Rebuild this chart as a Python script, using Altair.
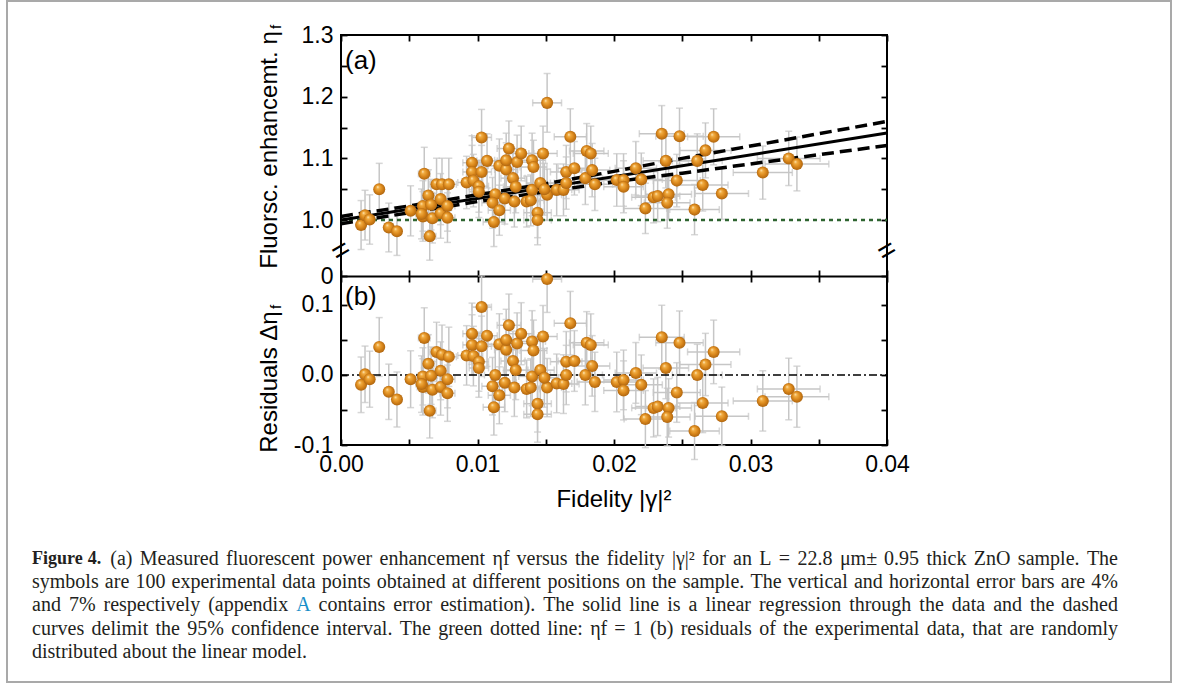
import altair as alt
import pandas as pd

# ---------------- data ----------------
fidelity = [0.00147, 0.00176, 0.0021, 0.0028, 0.0035, 0.0041, 0.0051, 0.0061, 0.0064, 0.0060,
            0.0060, 0.0066, 0.0065, 0.0067, 0.0070, 0.0073, 0.0074, 0.0073, 0.0079, 0.0078,
            0.0078, 0.0092, 0.0096, 0.0096, 0.0103, 0.0097, 0.0101, 0.0101, 0.0103, 0.0107,
            0.0112, 0.0113, 0.0111, 0.0116, 0.0116, 0.0120, 0.0121, 0.0123, 0.0121, 0.0126,
            0.0127, 0.0128, 0.0129, 0.0132, 0.0136, 0.0139, 0.0140, 0.0141, 0.0140, 0.0144,
            0.0144, 0.0146, 0.0148, 0.0151, 0.0151, 0.0158, 0.0163, 0.0165, 0.0165, 0.0168,
            0.0171, 0.0179, 0.0180, 0.0183, 0.0184, 0.0186, 0.0202, 0.0207, 0.0207, 0.0216,
            0.0220, 0.0223, 0.0229, 0.0232, 0.0235, 0.0238, 0.0240, 0.0239, 0.0246, 0.0248,
            0.0259, 0.0261, 0.0265, 0.0267, 0.0273, 0.0279, 0.0309, 0.0328, 0.0334, 0.0149,
            0.0059]
eta = [0.992, 1.008, 1.001, 1.050, 0.988, 0.982, 1.015, 1.075, 1.040, 1.023,
       1.006, 1.025, 0.974, 1.003, 1.058, 1.034, 1.058, 1.011, 1.058, 1.023,
       1.004, 1.061, 1.093, 1.078, 1.134, 1.064, 1.055, 1.046, 1.078, 1.096,
       0.997, 1.042, 1.028, 1.016, 1.088, 1.035, 1.082, 1.116, 1.097, 1.068,
       1.030, 1.054, 1.094, 1.108, 1.030, 1.032, 1.097, 1.086, 1.049, 1.012,
       1.000, 1.060, 1.108, 1.190, 1.041, 1.049, 1.049, 1.078, 1.060, 1.135,
       1.084, 1.068, 1.112, 1.108, 1.081, 1.058, 1.065, 1.065, 1.054, 1.084,
       1.066, 1.019, 1.037, 1.039, 1.140, 1.096, 1.042, 1.028, 1.064, 1.136,
       1.017, 1.096, 1.057, 1.113, 1.135, 1.043, 1.077, 1.100, 1.091, 1.050,
       1.010]
residual = [-0.014, 0.001, -0.006, 0.040, -0.024, -0.035, -0.006, 0.053, 0.016, -0.002,
            -0.017, -0.001, -0.051, -0.021, 0.033, 0.006, 0.029, -0.017, 0.026, -0.006,
            -0.026, 0.028, 0.059, 0.043, 0.097, 0.027, 0.019, 0.010, 0.041, 0.056,
            -0.046, 0.000, -0.016, -0.029, 0.044, -0.011, 0.036, 0.071, 0.050, 0.020,
            -0.018, 0.007, 0.045, 0.059, -0.020, -0.018, 0.048, 0.035, -0.002, -0.041,
            -0.056, 0.007, 0.055, 0.137, -0.018, -0.012, -0.013, 0.019, 0.000, 0.074,
            0.020, 0.000, 0.046, 0.043, 0.013, -0.010, -0.010, -0.007, -0.022, 0.003,
            -0.014, -0.063, -0.047, -0.045, 0.054, 0.010, -0.047, -0.060, -0.025, 0.046,
            -0.080, 0.000, -0.040, 0.015, 0.033, -0.059, -0.037, -0.020, -0.031, -0.004,
            -0.013]

fit_x = [0.0, 0.04]
fit_y = [1.0, 1.141]
ci_x = [0.0, 0.005, 0.01, 0.015, 0.02, 0.025, 0.03, 0.035, 0.04]
ci_upper = [1.006, 1.023, 1.041, 1.059, 1.079, 1.100, 1.120, 1.140, 1.160]
ci_lower = [0.994, 1.012, 1.030, 1.046, 1.062, 1.076, 1.091, 1.106, 1.121]
ref_x = [0.0, 0.04]
ref_eta = [1.0, 1.0]
ref_res = [0.0, 0.0]

x_major_minor = [0.0, 0.005, 0.01, 0.015, 0.02, 0.025, 0.03, 0.035, 0.04]
ytop_ticks = [0.909, 1.0, 1.05, 1.1, 1.15, 1.2, 1.25, 1.3]
ybot_ticks = [-0.1, -0.05, 0.0, 0.05, 0.1]

caption_lines = [
    "Figure 4. (a) Measured fluorescent power enhancement \u03b7f versus the fidelity |\u03b3|\u00b2 for an L = 22.8 \u03bcm\u00b1 0.95 thick ZnO sample. The",
    "symbols are 100 experimental data points obtained at different positions on the sample. The vertical and horizontal error bars are 4%",
    "and 7% respectively (appendix A contains error estimation). The solid line is a linear regression through the data and the dashed",
    "curves delimit the 95% confidence interval. The green dotted line: \u03b7f = 1 (b) residuals of the experimental data, that are randomly",
    "distributed about the linear model.",
]
caption_bold_words = ["Figure", "4."]
caption_link_words = ["A"]

# ---------------- layout constants ----------------
W, H = 546, 410
XD = [0.0, 0.04]
YTOP = [0.6355, 1.3]
YBOT = [-0.1, 0.4857]
TOPCLIP = 0.1414
ERRC = "#c6c6c6"
SANS = "Liberation Sans"
SERIF = "Liberation Serif"
CAP_SIZE = 20
BOLD_SIZE = 18
CAP_LEFT, CAP_RIGHT = -309, 777
CAP_Y = [524, 547, 570, 594, 617]

df = pd.DataFrame({"x": fidelity, "eta": eta, "res": residual})
df["xlo"] = df["x"] * 0.93
df["xhi"] = df["x"] * 1.07
df["elo"] = df["eta"] * 0.96
df["ehi"] = df["eta"] * 1.04
df["rlo"] = df["res"] - 0.04 * df["eta"]
df["rhi"] = (df["res"] + 0.04 * df["eta"]).clip(upper=TOPCLIP)

fit_df = pd.DataFrame({"x": fit_x, "y": fit_y})
ci_df = pd.DataFrame({"x": ci_x, "up": ci_upper, "lo": ci_lower})
ref_df = pd.DataFrame({"x": ref_x, "eta": ref_eta, "res": ref_res})


def X(field, axis=None):
    return alt.X(field, type="quantitative", scale=alt.Scale(domain=XD, nice=False, zero=False), axis=axis)


def Yt(field, axis=None):
    return alt.Y(field, type="quantitative", scale=alt.Scale(domain=YTOP, nice=False, zero=False), axis=axis)


def Yb(field, axis=None):
    return alt.Y(field, type="quantitative", scale=alt.Scale(domain=YBOT, nice=False, zero=False), axis=axis)


def errorbars(Y, lo, hi, val):
    base = alt.Chart(df)
    v = base.mark_rule(color=ERRC, strokeWidth=1.5).encode(x=X("x"), y=Y(lo), y2=alt.Y2(hi))
    h = base.mark_rule(color=ERRC, strokeWidth=1.5).encode(x=X("xlo"), x2=alt.X2("xhi"), y=Y(val))
    vc = base.transform_fold([lo, hi], as_=["k", "v"]).mark_tick(
        orient="horizontal", size=7, thickness=1.5, color=ERRC
    ).encode(x=X("x"), y=Y("v"))
    hc = base.transform_fold(["xlo", "xhi"], as_=["k", "v"]).mark_tick(
        orient="vertical", size=7, thickness=1.5, color=ERRC
    ).encode(x=X("v"), y=Y(val))
    return [v, h, vc, hc]


ball = alt.RadialGradient(
    gradient="radial",
    stops=[
        alt.GradientStop(color="#fff4d6", offset=0.0),
        alt.GradientStop(color="#f2ae43", offset=0.22),
        alt.GradientStop(color="#d9861a", offset=0.6),
        alt.GradientStop(color="#a65f0e", offset=1.0),
    ],
    x1=0.36, y1=0.3, r1=0.0, x2=0.5, y2=0.5, r2=0.55,
)

pts_top = alt.Chart(df).mark_circle(size=145, fill=ball, opacity=1).encode(x=X("x"), y=Yt("eta"))
pts_bot = alt.Chart(df).mark_circle(size=145, fill=ball, opacity=1).encode(x=X("x"), y=Yb("res"))

fit = alt.Chart(fit_df).mark_line(color="black", strokeWidth=3).encode(x=X("x"), y=Yt("y"))
ci_up = alt.Chart(ci_df).mark_line(color="black", strokeWidth=3.5, strokeDash=[12, 6]).encode(x=X("x"), y=Yt("up"))
ci_lo = alt.Chart(ci_df).mark_line(color="black", strokeWidth=3.5, strokeDash=[12, 6]).encode(x=X("x"), y=Yt("lo"))
green = alt.Chart(ref_df).mark_line(color="#2e6430", strokeWidth=2.5, strokeDash=[4, 4]).encode(x=X("x"), y=Yt("eta"))
zero = alt.Chart(ref_df).mark_line(color="black", strokeWidth=1.6, strokeDash=[8, 3, 2, 3]).encode(x=X("x"), y=Yb("res"))

brk_df = pd.DataFrame({"x": [0.0, 0.04], "y": [0.95, 0.95]})
breaks = alt.Chart(brk_df).mark_text(text="=", angle=330, fontSize=30, font=SANS, color="black",
                                     baseline="middle", align="center").encode(x=X("x"), y=Yt("y"))

one = pd.DataFrame({"a": [0]})


def txt(s, x, y, size, font=SANS, angle=0, align="left", weight="normal", color="black", baseline="middle"):
    return alt.Chart(one).mark_text(
        fontSize=size, font=font, angle=angle, align=align, baseline=baseline,
        fontWeight=weight, color=color,
    ).encode(x=alt.value(x), y=alt.value(y), text=alt.value(s))


texts = [
    txt("(a)", 4, 26, 26),
    txt("(b)", 4, 262, 26),
    txt("Fidelity |\u03b3|\u00b2", W / 2, 465, 24, align="center"),
    txt("Fluorsc. enhancemt. \u03b7", -71, 115, 24, angle=270, align="center"),
    txt("f", -65, -8, 15, angle=270, align="center"),
    txt("Residuals \u0394\u03b7", -71, 347, 24, angle=270, align="center"),
    txt("f", -65, 272, 15, angle=270, align="center"),
]

# ---------------- caption: justified words (Times metrics, 1/1000 em) ----------------
TIMES = {" ": 250, "!": 333, "%": 833, "(": 333, ")": 333, ",": 250, "-": 333, ".": 250, "/": 278,
         ":": 278, ";": 278, "=": 564, "|": 200, "\u00b1": 564, "\u00b2": 300, "\u03b7": 500,
         "\u03b3": 450, "\u03bc": 500,
         "A": 722, "B": 667, "C": 667, "D": 722, "E": 611, "F": 556, "G": 722, "H": 722, "I": 333,
         "J": 389, "K": 722, "L": 611, "M": 889, "N": 722, "O": 722, "P": 556, "Q": 722, "R": 667,
         "S": 556, "T": 611, "U": 722, "V": 722, "W": 944, "X": 722, "Y": 722, "Z": 611,
         "a": 444, "b": 500, "c": 444, "d": 500, "e": 444, "f": 333, "g": 500, "h": 500, "i": 278,
         "j": 278, "k": 500, "l": 278, "m": 778, "n": 500, "o": 500, "p": 500, "q": 500, "r": 333,
         "s": 389, "t": 278, "u": 500, "v": 500, "w": 722, "x": 500, "y": 500, "z": 444}


def text_width(s, size):
    return sum(TIMES.get(c, 500) for c in s) / 1000.0 * size


rows = []
for li, line in enumerate(caption_lines):
    words = line.split(" ")
    sizes = []
    for wi, w in enumerate(words):
        bold = li == 0 and wi < len(caption_bold_words) and w == caption_bold_words[wi]
        sizes.append((w, BOLD_SIZE if bold else CAP_SIZE, bold))
    widths = [text_width(w, s) + (1.5 if b else 0) for w, s, b in sizes]
    natural = sum(widths)
    if li < len(caption_lines) - 1:
        gap = (CAP_RIGHT - CAP_LEFT - natural) / (len(words) - 1)
    else:
        gap = 0.25 * CAP_SIZE
    xpos = CAP_LEFT
    for (w, s, b), wd in zip(sizes, widths):
        color = "#1a8fc9" if (li == 2 and w in caption_link_words) else "#231f20"
        rows.append({"word": w, "px": xpos, "py": CAP_Y[li], "bold": b, "col": color})
        xpos += wd + gap
cap_df = pd.DataFrame(rows)

cap_normal = alt.Chart(cap_df).transform_filter("!datum.bold").mark_text(
    font=SERIF, fontSize=CAP_SIZE, align="left", baseline="middle"
).encode(x=alt.X("px:Q", scale=None), y=alt.Y("py:Q", scale=None), text="word:N",
         color=alt.Color("col:N", scale=None))
cap_bold = alt.Chart(cap_df).transform_filter("datum.bold").mark_text(
    font=SERIF, fontSize=BOLD_SIZE, fontWeight="bold", align="left", baseline="middle", color="#231f20"
).encode(x=alt.X("px:Q", scale=None), y=alt.Y("py:Q", scale=None), text="word:N")

frame = alt.Chart(one).mark_rect(fillOpacity=0, stroke="#a9a9a9", strokeWidth=2).encode(
    x=alt.value(-334), x2=alt.value(830), y=alt.value(-34), y2=alt.value(647)
)

# ---------------- axes ----------------
dummy = pd.DataFrame({"x": [0.02], "yt": [1.1], "yb": [0.0]})
tick_common = dict(domain=False, ticks=True, tickColor="black", tickWidth=1.8, tickSize=6,
                   grid=False, title=None, labelFont=SANS, labelFontSize=23, labelColor="black",
                   labelOverlap=False)


def xaxis_layer(ax):
    return alt.Chart(dummy).mark_point(opacity=0).encode(x=X("x", axis=ax), y=Yt("yt"))


def ytop_layer(ax):
    return alt.Chart(dummy).mark_point(opacity=0).encode(x=X("x"), y=Yt("yt", axis=ax))


def ybot_layer(ax):
    return alt.Chart(dummy).mark_point(opacity=0).encode(x=X("x"), y=Yb("yb", axis=ax))


ax_A = alt.Axis(orient="bottom", offset=-6, values=x_major_minor, labelPadding=8, labelFlush=False,
                labelExpr="round(datum.value*1000) % 10 == 0 ? format(datum.value, '.2f') : ''", **tick_common)
ax_B = alt.Axis(orient="top", offset=-6, values=x_major_minor, labels=False, **tick_common)
ax_C = alt.Axis(orient="top", offset=-241, values=x_major_minor, labels=False, **tick_common)
ax_D_opts = dict(tick_common)
ax_D_opts["domain"] = True
ax_D = alt.Axis(orient="bottom", offset=-169, values=x_major_minor, labels=False,
                domainColor="black", domainWidth=2, **ax_D_opts)
ax_E = alt.Axis(orient="left", offset=-6, values=ytop_ticks, labelPadding=8,
                labelExpr="datum.value < 0.95 ? '0' : (round(datum.value*100) % 10 == 0 ? format(datum.value, '.1f') : '')",
                **tick_common)
ax_F = alt.Axis(orient="right", offset=-6, values=ytop_ticks, labels=False, **tick_common)
ax_G = alt.Axis(orient="left", offset=-6, values=ybot_ticks, labelPadding=8,
                labelExpr="round(datum.value*100) % 10 == 0 ? (datum.value < 0 ? '-' + format(-datum.value, '.1f') : format(datum.value, '.1f')) : ''",
                **tick_common)
ax_H = alt.Axis(orient="right", offset=-6, values=ybot_ticks, labels=False, **tick_common)

axes = [xaxis_layer(ax_A), xaxis_layer(ax_B), xaxis_layer(ax_C), xaxis_layer(ax_D),
        ytop_layer(ax_E), ytop_layer(ax_F), ybot_layer(ax_G), ybot_layer(ax_H)]

layers = (
    [frame]
    + errorbars(Yt, "elo", "ehi", "eta")
    + errorbars(Yb, "rlo", "rhi", "res")
    + [green, zero, ci_up, ci_lo, fit, pts_top, pts_bot, breaks]
    + axes
    + texts
    + [cap_normal, cap_bold]
)

chart = (
    alt.layer(*layers)
    .resolve_scale(y="independent")
    .resolve_axis(x="independent", y="independent")
    .properties(width=W, height=H, padding={"left": 6, "top": 0, "right": 0, "bottom": 0}, background="white")
    .configure_view(stroke="black", strokeWidth=2)
)

chart.save("out.html", embed_options={"renderer": "svg", "actions": False})
